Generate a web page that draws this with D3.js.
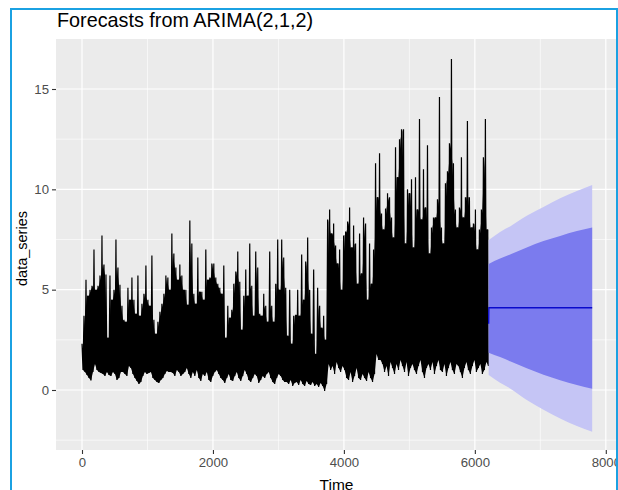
<!DOCTYPE html>
<html>
<head>
<meta charset="utf-8">
<script src="https://d3js.org/d3.v7.min.js"></script>
<style>
  html, body { margin: 0; padding: 0; background: #ffffff; }
  svg { display: block; }
  text { font-family: "Liberation Sans", Arial, sans-serif; }
</style>
</head>
<body>
<svg id="chart" width="618" height="490"></svg>
<script>
// ---------------- data ----------------
const chartTitle = "Forecasts from ARIMA(2,1,2)";
const xLabel = "Time";
const yLabel = "data_series";
const xTicks = [0, 2000, 4000, 6000, 8000];
const xMinorTicks = [1000, 3000, 5000, 7000];
const yTicks = [0, 5, 10, 15];
const yMinorTicks = [-2.5, 2.5, 7.5, 12.5];

// observed series, summarised as the per-column high / low envelope
// readings, one reading every `sampleStep` time units starting at t = 0
const sampleStep = 30.5;
const seriesHigh = [
  2.3, 3.7, 5.5, 4.7, 5.0, 5.2, 7.0, 5.0, 5.2, 5.7, 7.7, 6.25, 5.75, 2.6, 5.7, 4.5, 5.0, 7.5, 6.1, 5.25,
  4.2, 3.5, 3.4, 5.1, 4.5, 5.6, 4.5, 3.8, 5.7, 3.7, 4.3, 4.8, 6.2, 4.5, 4.2, 6.7, 3.5, 2.8, 3.4, 3.9,
  4.3, 4.8, 5.7, 5.6, 5.0, 7.8, 6.8, 6.1, 5.5, 6.25, 5.7,
  5.0, 5.0, 4.25, 8.45, 7.3, 4.8, 4.3, 6.6, 4.9, 4.9, 4.5, 7.0, 5.5, 5.6, 6.3, 6.3, 5.6, 5.3, 5.1, 4.8,
  6.2, 2.6, 4.2, 3.6, 4.0, 5.3, 5.9, 6.9, 5.4, 3.0, 4.7, 6.0, 4.7, 7.3, 5.2, 3.7, 6.9, 6.1, 3.8, 3.7,
  4.8, 4.2, 3.4, 6.9, 4.2, 3.4, 5.3, 7.5, 5.0, 7.5, 6.6,
  5.1, 2.7, 5.0, 2.3, 3.7, 3.75, 5.0, 3.7, 6.75, 4.5, 6.4, 7.6, 5.0, 2.8, 6.0, 1.8, 5.1, 4.2, 3.1, 3.7,
  2.5, 8.5, 9.0, 7.8, 8.3, 7.2, 6.3, 7.0, 5.0,
  7.7, 7.9, 8.4, 9.1, 7.1, 8.2, 7.3, 5.3, 7.8, 5.8, 8.6, 8.3, 4.5, 7.3, 5.3, 7.0, 11.3, 9.6,
  11.8, 8.8, 8.0, 9.05, 9.8, 9.6, 8.6, 7.6, 12.1, 10.6, 12.5, 13.0, 13.0, 7.3, 10.0, 9.8, 10.5, 7.1, 10.6, 9.0,
  13.5, 8.5, 11.0, 9.1, 12.2, 6.8, 8.1, 8.6, 8.6, 9.5, 14.6, 8.1, 7.3, 10.3, 10.9, 12.3, 16.5, 11.3, 9.0, 8.1,
  9.1, 11.6, 8.6, 9.6, 13.4, 9.6, 8.1, 8.3, 9.0, 7.0, 8.0, 9.0, 11.6, 13.5, 8.0
];
const seriesLow = [
  1.0, 0.9, 0.75, 0.6, 0.47, 0.9, 1.3, 1.0, 0.9, 0.85, 0.8, 0.7, 0.9, 0.75, 0.7, 0.9, 0.8, 0.5, 0.6, 0.9,
  0.9, 0.8, 0.7, 1.2, 1.1, 0.8, 0.6, 0.45, 0.3, 0.4, 0.7, 0.9, 0.8, 0.85, 0.9, 0.6, 0.5, 0.4, 0.35, 0.5,
  0.6, 0.8, 0.95, 0.9, 0.9, 0.85, 0.7, 1.0, 0.9, 0.7, 0.8,
  0.9, 1.1, 0.8, 0.6, 0.9, 0.7, 1.0, 0.6, 0.45, 0.8, 0.7, 0.9, 0.5, 0.4, 0.7, 0.9, 1.0, 0.8, 0.6, 0.5,
  0.35, 0.6, 0.8, 0.5, 0.45, 0.7, 0.9, 0.6, 0.45, 0.7, 1.0, 0.8, 0.5, 0.4, 0.6, 0.8, 0.7, 0.35, 0.5, 0.7,
  0.6, 0.8, 0.9, 0.6, 0.4, 0.3, 0.6, 0.8, 0.7, 0.5, 0.4,
  0.4, 0.3, 0.5, 0.2, 0.35, 0.4, 0.25, 0.5, 0.3, 0.2, 0.45, 0.3, 0.25, 0.4, 0.2, 0.3, 0.15, 0.35, 0.2, -0.05,
  0.3, 1.3, 1.0, 1.2, 0.8, 1.4, 1.1, 0.9, 1.2,
  1.0, 0.6, 0.5, 0.9, 0.4, 0.7, 1.1, 0.6, 0.5, 0.8, 0.6, 0.45, 0.9, 0.6, 0.4, 0.8, 1.8, 1.5,
  1.5, 1.3, 0.9, 1.2, 0.7, 1.4, 1.1, 0.8, 1.3, 1.0, 1.5, 1.2, 0.9, 1.4, 0.7, 1.1, 1.3, 1.0, 0.8, 1.2,
  1.5, 0.9, 0.6, 1.1, 1.3, 1.0, 1.4, 0.8, 1.2, 1.5, 1.0, 0.9, 1.3, 0.7, 1.1, 1.4, 1.0, 0.8, 1.3, 1.2,
  0.9, 0.6, 1.1, 1.4, 1.0, 0.8, 1.2, 1.5, 0.9, 1.1, 1.3, 0.8, 1.0, 1.4, 1.2
];

// forecast (point forecast and 80% / 95% intervals)
const meanTime = [6211, 6214, 7792];
const meanValue = [3.3, 4.1, 4.1];
const fcTime = [6211, 6385, 6538, 6793, 7048, 7303, 7558, 7792];
const upper95 = [7.47, 7.88, 8.15, 8.68, 9.12, 9.56, 9.92, 10.22];
const upper80 = [6.28, 6.55, 6.75, 7.10, 7.42, 7.68, 7.92, 8.10];
const lower80 = [1.86, 1.64, 1.43, 1.08, 0.76, 0.49, 0.25, 0.06];
const lower95 = [0.75, 0.36, 0.08, -0.50, -0.98, -1.42, -1.80, -2.08];

// ---------------- layout ----------------
const panel = { left: 56, top: 39, right: 617, bottom: 450 };
const svg = d3.select("#chart");

const x = d3.scaleLinear().domain([0, 8000]).range([82, 605.8]);
const y = d3.scaleLinear().domain([0, 15]).range([390, 89]);

// panel background
svg.append("rect")
  .attr("x", panel.left).attr("y", panel.top)
  .attr("width", panel.right - panel.left).attr("height", panel.bottom - panel.top)
  .attr("fill", "#EBEBEB");

const clip = svg.append("defs").append("clipPath").attr("id", "clip");
clip.append("rect")
  .attr("x", panel.left).attr("y", panel.top)
  .attr("width", panel.right - panel.left).attr("height", panel.bottom - panel.top);

const grid = svg.append("g").attr("clip-path", "url(#clip)");
grid.selectAll(".ymin").data(yMinorTicks).join("line")
  .attr("x1", panel.left).attr("x2", panel.right)
  .attr("y1", d => y(d)).attr("y2", d => y(d))
  .attr("stroke", "#fff").attr("stroke-width", 0.6);
grid.selectAll(".xmin").data(xMinorTicks).join("line")
  .attr("y1", panel.top).attr("y2", panel.bottom)
  .attr("x1", d => x(d)).attr("x2", d => x(d))
  .attr("stroke", "#fff").attr("stroke-width", 0.6);
grid.selectAll(".ymaj").data(yTicks).join("line")
  .attr("x1", panel.left).attr("x2", panel.right)
  .attr("y1", d => y(d)).attr("y2", d => y(d))
  .attr("stroke", "#fff").attr("stroke-width", 1.2);
grid.selectAll(".xmaj").data(xTicks).join("line")
  .attr("y1", panel.top).attr("y2", panel.bottom)
  .attr("x1", d => x(d)).attr("x2", d => x(d))
  .attr("stroke", "#fff").attr("stroke-width", 1.2);

const plot = svg.append("g").attr("clip-path", "url(#clip)");

// observed series: dense core between consecutive readings + zigzag line
const corePoints = seriesLow.map((lo, k) => ({
  t: k * sampleStep + sampleStep / 2,
  lo: lo,
  hi: Math.min(seriesHigh[k], k + 1 < seriesHigh.length ? seriesHigh[k + 1] : seriesHigh[k])
}));
plot.append("path")
  .datum(corePoints)
  .attr("fill", "#000")
  .attr("d", d3.area().x(d => x(d.t)).y0(d => y(d.lo)).y1(d => y(d.hi)));

const seriesPoints = [];
seriesHigh.forEach((h, k) => {
  seriesPoints.push([k * sampleStep, h]);
  seriesPoints.push([k * sampleStep + sampleStep / 2, seriesLow[k]]);
});
plot.append("path")
  .datum(seriesPoints)
  .attr("fill", "none")
  .attr("stroke", "#000")
  .attr("stroke-width", 1.2)
  .attr("d", d3.line().x(d => x(d[0])).y(d => y(d[1])));

// forecast bands
const fc = fcTime.map((t, i) => ({ t, u95: upper95[i], l95: lower95[i], u80: upper80[i], l80: lower80[i] }));
plot.append("path").datum(fc)
  .attr("fill", "#C5C5F5")
  .attr("d", d3.area().curve(d3.curveMonotoneX).x(d => x(d.t)).y0(d => y(d.l95)).y1(d => y(d.u95)));
plot.append("path").datum(fc)
  .attr("fill", "#7B7BEE")
  .attr("d", d3.area().curve(d3.curveMonotoneX).x(d => x(d.t)).y0(d => y(d.l80)).y1(d => y(d.u80)));

const meanPts = meanTime.map((t, i) => [t, meanValue[i]]);
plot.append("path").datum(meanPts)
  .attr("fill", "none").attr("stroke", "#0A0ACC").attr("stroke-width", 1.3)
  .attr("d", d3.line().x(d => x(d[0])).y(d => y(d[1])));

// axes
const yAxis = svg.append("g")
  .attr("transform", `translate(${panel.left},0)`)
  .call(d3.axisLeft(y).tickValues(yTicks).tickSize(4).tickPadding(3).tickFormat(d3.format("d")));
const xAxis = svg.append("g")
  .attr("transform", `translate(0,${panel.bottom})`)
  .call(d3.axisBottom(x).tickValues(xTicks).tickSize(4).tickPadding(4).tickFormat(d3.format("d")));
[yAxis, xAxis].forEach(a => {
  a.select(".domain").remove();
  a.selectAll(".tick line").attr("stroke", "#333").attr("stroke-width", 1.1);
  a.selectAll(".tick text").attr("fill", "#4D4D4D").style("font-size", "13.2px")
    .style("font-family", "'Liberation Sans', Arial, sans-serif");
});

// titles
svg.append("text").attr("x", 57).attr("y", 27)
  .attr("fill", "#000").style("font-size", "19.8px").text(chartTitle);
svg.append("text").attr("x", (panel.left + panel.right) / 2).attr("y", 489.5)
  .attr("text-anchor", "middle").attr("fill", "#000").style("font-size", "15.5px").text(xLabel);
svg.append("text")
  .attr("transform", `translate(26.5,${(panel.top + panel.bottom) / 2 + 4}) rotate(-90)`)
  .attr("text-anchor", "middle").attr("fill", "#000").style("font-size", "14.5px").text(yLabel);

// screenshot selection frame
svg.append("path")
  .attr("d", "M11,492 V9 H617 V492")
  .attr("fill", "none").attr("stroke", "#1BA1E2").attr("stroke-width", 2);
</script>
</body>
</html>
